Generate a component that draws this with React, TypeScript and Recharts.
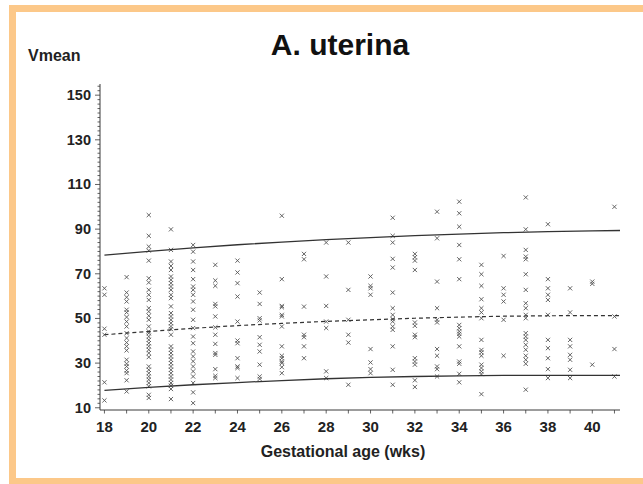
import React from 'react';
import { ScatterChart, Scatter, XAxis, YAxis } from 'recharts';

const weeks = [18, 19, 20, 21, 22, 23, 24, 25, 26, 27, 28, 29, 30, 31, 32, 33, 34, 35, 36, 37, 38, 39, 40, 41];

const weekValues: number[][] = [
  [63.5, 60.6, 45.4, 42.7, 21.4, 13.3],
  [68.5, 61.6, 59.5, 57.6, 53.9, 52.7, 50.6, 48.6, 46.4, 43.4, 41.2, 39.2, 37.5, 35.7, 31.5, 29.7, 28.5, 26.7, 25.5, 22.3, 17.3],
  [96.3, 87, 82.2, 80.4, 75.9, 68, 66.1, 62.8, 60.6, 58.3, 54.6, 53.1, 51.2, 49.4, 46.4, 44.2, 43.4, 41.9, 40.4, 38.9, 37.5, 36, 34.5, 32.7, 28.5, 27, 25.5, 24, 22.6, 21.1, 19.6, 15.8, 14.4],
  [89.9, 80.7, 75.5, 73.5, 71.7, 68.8, 67.3, 65.8, 64.3, 62.8, 60.6, 59.1, 55.4, 52.4, 50.9, 49.4, 47.9, 46.4, 45.2, 42.7, 37.5, 36, 34.5, 33, 31.5, 30, 28.5, 27, 25.5, 24, 22.6, 21.1, 19.9, 18.4, 13.9],
  [82.9, 79.9, 75.5, 71.7, 67.6, 64.3, 62.8, 60.6, 57.6, 53.9, 49.4, 45.7, 41.9, 38.9, 35.2, 33, 30.8, 28.5, 26.3, 24, 21.1, 16.9, 12.1],
  [74, 67, 64.6, 56.5, 55.4, 50.9, 46, 42.7, 38.6, 34.5, 33.7, 27.3, 24.3, 23.3],
  [75.9, 70.6, 65.8, 59.8, 48.6, 40.1, 38.9, 32.2, 28.5, 27.8, 23.3],
  [61.6, 56.5, 50.1, 49.1, 41.6, 38.2, 35.2, 29.3, 24, 22.9],
  [96, 67.6, 55.6, 55, 51.6, 50.9, 46.4, 37.5, 33.3, 32.2, 30.7, 30, 28.2, 25.5],
  [78.9, 76.5, 55.3, 42.7, 41.6, 37.5, 32.2],
  [84, 68.8, 55.6, 48.6, 45.7, 26.3, 23.3],
  [84, 62.8, 49.4, 42.7, 39.2, 20.3],
  [68.8, 64.6, 63.5, 60.6, 36.3, 30.3, 27.3, 25.5],
  [95.1, 87, 84, 76.7, 72.8, 61.6, 54.6, 51.6, 49.7, 48.6, 46.4, 44.9, 37.5, 27, 20.3],
  [78.9, 77.4, 75.9, 71.7, 48.2, 46.7, 42.7, 41.6, 32.2, 30.7, 29.3, 22.3, 19.3],
  [97.8, 85.9, 66.5, 54.6, 49.4, 48.2, 36.3, 33.3, 28.5, 27.3, 24],
  [102.3, 97.1, 91.1, 82.9, 76.5, 67.6, 47.1, 45.6, 44.2, 43.1, 41.9, 37.5, 30.7, 29.7, 25.2, 21.4],
  [74, 69.8, 64.6, 58.6, 54.6, 52.7, 50.1, 40.4, 35.9, 34.8, 33.3, 29.3, 27.8, 26.3, 25.1, 16.1],
  [78, 63.5, 60.6, 57.6, 49.4, 33.3],
  [104.2, 89.9, 80.7, 77.7, 76.5, 69.8, 62.8, 56.8, 54.6, 51.6, 50.1, 43.4, 41.9, 40.4, 38.2, 36, 33.3, 31.5, 29.7, 18.1],
  [92.2, 67.6, 63.5, 60.6, 58.3, 51.6, 40.4, 36.7, 32.2, 27.3, 23.3],
  [63.5, 52.7, 40.4, 37.5, 33.7, 31.5, 27, 23.3],
  [66.5, 65.5, 29.3],
  [100, 50.9, 36.3, 24],
];

const curveWeeks = [18, 20, 22, 24, 26, 28, 30, 32, 34, 36, 38, 40, 41.25];
const upperValues = [78.4, 80, 81.6, 83, 84.2, 85.3, 86.2, 87.1, 87.8, 88.4, 88.9, 89.2, 89.4];
const medianValues = [42.7, 44.2, 45.6, 46.8, 47.8, 48.7, 49.4, 50.1, 50.6, 51, 51.2, 51.3, 51.3];
const lowerValues = [17.8, 19.1, 20.3, 21.3, 22.2, 23, 23.6, 24, 24.3, 24.5, 24.5, 24.5, 24.5];

const xTicks = weeks;
const xLabels = [18, 20, 22, 24, 26, 28, 30, 32, 34, 36, 38, 40];
const yMinorTicks: number[] = [];
for (let v = 10; v <= 154; v += 2) yMinorTicks.push(v);
const yLabels = [10, 30, 50, 70, 90, 110, 130, 150];

const points = weeks.flatMap((w, i) => weekValues[i].map((v) => ({ x: w, y: v })));
const upper = curveWeeks.map((w, i) => ({ x: w, y: upperValues[i] }));
const median = curveWeeks.map((w, i) => ({ x: w, y: medianValues[i] }));
const lower = curveWeeks.map((w, i) => ({ x: w, y: lowerValues[i] }));

const FONT = '"Liberation Sans", Arial, sans-serif';
const AXIS = '#3a3a3a';

const Cross = (props: any) => {
  const { cx, cy } = props;
  if (cx == null || cy == null) return <g />;
  const s = 2.1;
  return (
    <g stroke="#555" strokeWidth={0.9}>
      <line x1={cx - s} y1={cy - s} x2={cx + s} y2={cy + s} />
      <line x1={cx - s} y1={cy + s} x2={cx + s} y2={cy - s} />
    </g>
  );
};

const Empty = () => <g />;

const YTick = (props: any) => {
  const { x, y, payload } = props;
  const v = payload.value;
  const major = yLabels.includes(v);
  return (
    <g>
      <line x1={x} x2={x - (major ? 5 : 2.5)} y1={y} y2={y} stroke={AXIS} strokeWidth={0.8} />
      {major && (
        <text x={x - 9} y={y} dy={5} textAnchor="end" fontFamily={FONT} fontWeight="bold" fontSize={14.5} fill="#222">
          {v}
        </text>
      )}
    </g>
  );
};

const XTick = (props: any) => {
  const { x, y, payload } = props;
  const v = payload.value;
  const major = xLabels.includes(v);
  return (
    <g>
      <line x1={x} x2={x} y1={y} y2={y + 3.5} stroke={AXIS} strokeWidth={0.8} />
      {major && (
        <text x={x} y={y + 22} textAnchor="middle" fontFamily={FONT} fontWeight="bold" fontSize={15} fill="#222">
          {v}
        </text>
      )}
    </g>
  );
};

export default function App() {
  return (
    <div style={{ position: 'absolute', left: 0, top: 0, width: 643, height: 484, overflow: 'hidden', background: '#fff' }}>
      <div
        style={{
          position: 'absolute',
          left: 9,
          top: 5,
          width: 660,
          height: 480,
          boxSizing: 'border-box',
          border: '7px solid #FCC889',
        }}
      />
      <div
        style={{
          position: 'absolute',
          left: 0,
          width: 680,
          top: 28,
          textAlign: 'center',
          fontFamily: FONT,
          fontWeight: 'bold',
          fontSize: 30,
          color: '#111',
        }}
      >
        A. uterina
      </div>
      <div style={{ position: 'absolute', left: 28, top: 47, fontFamily: FONT, fontWeight: 'bold', fontSize: 16, color: '#222' }}>
        Vmean
      </div>
      <div
        style={{
          position: 'absolute',
          left: 0,
          width: 686,
          top: 443,
          textAlign: 'center',
          fontFamily: FONT,
          fontWeight: 'bold',
          fontSize: 16,
          color: '#222',
        }}
      >
        Gestational age (wks)
      </div>
      <div style={{ position: 'absolute', left: 0, top: 0 }}>
        <ScatterChart width={643} height={484} margin={{ top: 84, right: 23, bottom: 44, left: 40 }}>
          <XAxis
            type="number"
            dataKey="x"
            domain={[17.8, 41.25]}
            ticks={xTicks}
            interval={0}
            allowDataOverflow
            tickSize={0}
            tickMargin={0}
            tickLine={false}
            tick={<XTick />}
            axisLine={{ stroke: AXIS, strokeWidth: 1 }}
            height={30}
          />
          <YAxis
            type="number"
            dataKey="y"
            domain={[9, 155]}
            ticks={yMinorTicks}
            interval={0}
            allowDataOverflow
            tickSize={0}
            tickMargin={0}
            tickLine={false}
            tick={<YTick />}
            axisLine={{ stroke: AXIS, strokeWidth: 1 }}
            width={60}
          />
          <Scatter data={points} shape={<Cross />} isAnimationActive={false} />
          <Scatter data={upper} shape={<Empty />} line={{ stroke: '#333', strokeWidth: 1.3 }} lineType="joint" isAnimationActive={false} />
          <Scatter data={median} shape={<Empty />} line={{ stroke: '#333', strokeWidth: 1.2, strokeDasharray: '4 3' }} lineType="joint" isAnimationActive={false} />
          <Scatter data={lower} shape={<Empty />} line={{ stroke: '#333', strokeWidth: 1.3 }} lineType="joint" isAnimationActive={false} />
        </ScatterChart>
      </div>
    </div>
  );
}
